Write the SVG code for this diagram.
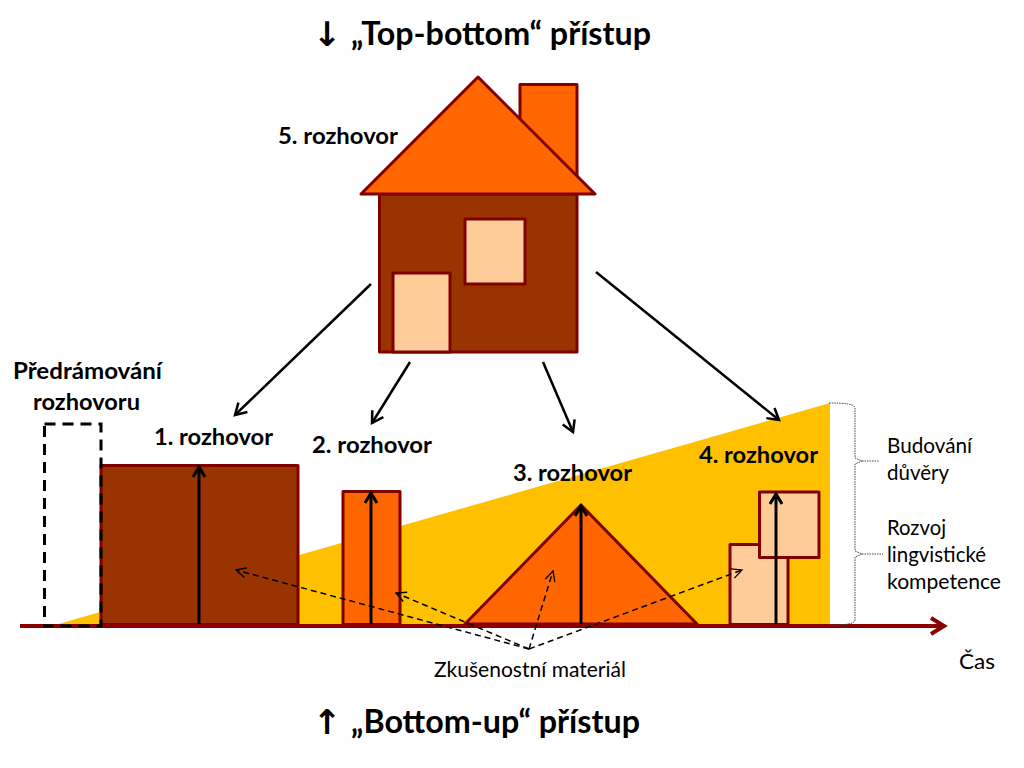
<svg xmlns="http://www.w3.org/2000/svg" width="1024" height="768" viewBox="0 0 1024 768">
<style>
text{font-family:"Lato","Open Sans","Noto Sans",sans-serif;fill:#000}
.h{font-size:32px;font-weight:700}
.ar{font-size:34px;font-weight:700;font-family:"DejaVu Sans",sans-serif}
.b{font-size:23.500px;font-weight:700}
.r{font-size:21.500px}
.s{stroke:#800000;stroke-width:3;stroke-linejoin:round}
.brown{fill:#993300}.orange{fill:#FF6600}.peach{fill:#FFCC99}
.c{fill:none;stroke:#000;stroke-width:2.5}
.up{fill:none;stroke:#000;stroke-width:3}
.d{fill:none;stroke:#000;stroke-width:1.5;stroke-dasharray:6 4}
.br{fill:none;stroke:#444;stroke-width:1;stroke-dasharray:1.5 1}
</style>
<defs>
<marker id="a" markerUnits="userSpaceOnUse" markerWidth="20" markerHeight="20" refX="13" refY="10" orient="auto"><path d="M2 3.500L13 10L2 16.500" fill="none" stroke="#000" stroke-width="2.500"/></marker>
<marker id="u" markerUnits="userSpaceOnUse" markerWidth="20" markerHeight="20" refX="13" refY="10" orient="auto"><path d="M3 4L13 10L3 16" fill="none" stroke="#000" stroke-width="3"/></marker>
<marker id="da" markerUnits="userSpaceOnUse" markerWidth="16" markerHeight="16" refX="11" refY="8" orient="auto"><path d="M1 3L11 8L1 13" fill="none" stroke="#000" stroke-width="1.300"/></marker>
<marker id="ax" markerUnits="userSpaceOnUse" markerWidth="24" markerHeight="24" refX="16" refY="12" orient="auto"><path d="M3 4L16 12L3 20" fill="none" stroke="#8B0000" stroke-width="4"/></marker>
</defs>
<g id="wedge"><path d="M55 625L830 403V625Z" fill="#FFC000"/></g>
<g id="talk1"><rect class="s brown" x="101" y="465.500" width="197" height="159"/></g>
<g id="talk2"><rect class="s orange" x="343" y="491.500" width="57" height="133"/></g>
<g id="talk3"><path class="s orange" d="M465 624L581 505L697 624Z"/></g>
<g id="talk4"><rect class="s peach" x="730" y="544.500" width="58" height="80"/><rect class="s peach" x="759.500" y="492" width="59.500" height="65.500"/></g>
<g id="house">
<rect class="s orange" x="520" y="84.500" width="57" height="100"/>
<rect class="s brown" x="379.500" y="194" width="197.500" height="158"/>
<path class="s orange" d="M478 77L595 194H361Z"/>
<rect class="s peach" x="465" y="219" width="60" height="65"/>
<rect class="s peach" x="393" y="273" width="57" height="79"/>
</g>
<g id="connectors">
<path d="M20 626H944" fill="none" stroke="#8B0000" stroke-width="4" marker-end="url(#ax)"/>
<path class="up" d="M199 624V467" marker-end="url(#u)"/>
<path class="up" d="M371 624V493" marker-end="url(#u)"/>
<path class="up" d="M581 624V506" marker-end="url(#u)"/>
<path class="up" d="M776 624V494" marker-end="url(#u)"/>
<path class="c" d="M371 284L235 415" marker-end="url(#a)"/>
<path class="c" d="M410 362L372 423" marker-end="url(#a)"/>
<path class="c" d="M543 362L573 432" marker-end="url(#a)"/>
<path class="c" d="M596 272L779 420" marker-end="url(#a)"/>
<path class="d" d="M529 649L236 570" marker-end="url(#da)"/>
<path class="d" d="M529 649L396 593" marker-end="url(#da)"/>
<path class="d" d="M529 649L553 571" marker-end="url(#da)"/>
<path class="d" d="M529 649L742 570" marker-end="url(#da)"/>
<path class="br" d="M829 403C845 403 855 404 855 408V458L862 461L855 464V551L862 554L855 557V620C855 624 845 625 829 625"/>
<path class="br" d="M862 461H879M862 554H883"/>
</g>
<g id="preframe"><rect x="44.500" y="424" width="56.500" height="202" fill="none" stroke="#000" stroke-width="3" stroke-dasharray="11 7"/></g>
<g id="labels">
<text class="ar" x="313" y="46">↓</text>
<text class="h" x="351" y="45" textLength="300" lengthAdjust="spacingAndGlyphs">„Top-bottom“ přístup</text>
<text class="ar" x="313" y="734">↑</text>
<text class="h" x="351" y="733" textLength="289" lengthAdjust="spacingAndGlyphs">„Bottom-up“ přístup</text>
<text class="b" x="278" y="144" textLength="120" lengthAdjust="spacingAndGlyphs">5. rozhovor</text>
<text class="b" x="13" y="379" textLength="149" lengthAdjust="spacingAndGlyphs">Předrámování</text>
<text class="b" x="33" y="410" textLength="107" lengthAdjust="spacingAndGlyphs">rozhovoru</text>
<text class="b" x="154" y="445" textLength="119" lengthAdjust="spacingAndGlyphs">1. rozhovor</text>
<text class="b" x="312" y="453" textLength="120" lengthAdjust="spacingAndGlyphs">2. rozhovor</text>
<text class="b" x="513" y="481" textLength="119" lengthAdjust="spacingAndGlyphs">3. rozhovor</text>
<text class="b" x="699" y="463" textLength="119" lengthAdjust="spacingAndGlyphs">4. rozhovor</text>
<text class="r" x="887" y="453" textLength="85" lengthAdjust="spacingAndGlyphs">Budování</text>
<text class="r" x="887" y="480" textLength="62" lengthAdjust="spacingAndGlyphs">důvěry</text>
<text class="r" x="887" y="535" textLength="59" lengthAdjust="spacingAndGlyphs">Rozvoj</text>
<text class="r" x="887" y="562" textLength="99" lengthAdjust="spacingAndGlyphs">lingvistické</text>
<text class="r" x="887" y="589" textLength="114" lengthAdjust="spacingAndGlyphs">kompetence</text>
<text class="r" x="434" y="677" textLength="192" lengthAdjust="spacingAndGlyphs">Zkušenostní materiál</text>
<text class="r" x="959" y="669" textLength="36" lengthAdjust="spacingAndGlyphs">Čas</text>
</g>
</svg>
